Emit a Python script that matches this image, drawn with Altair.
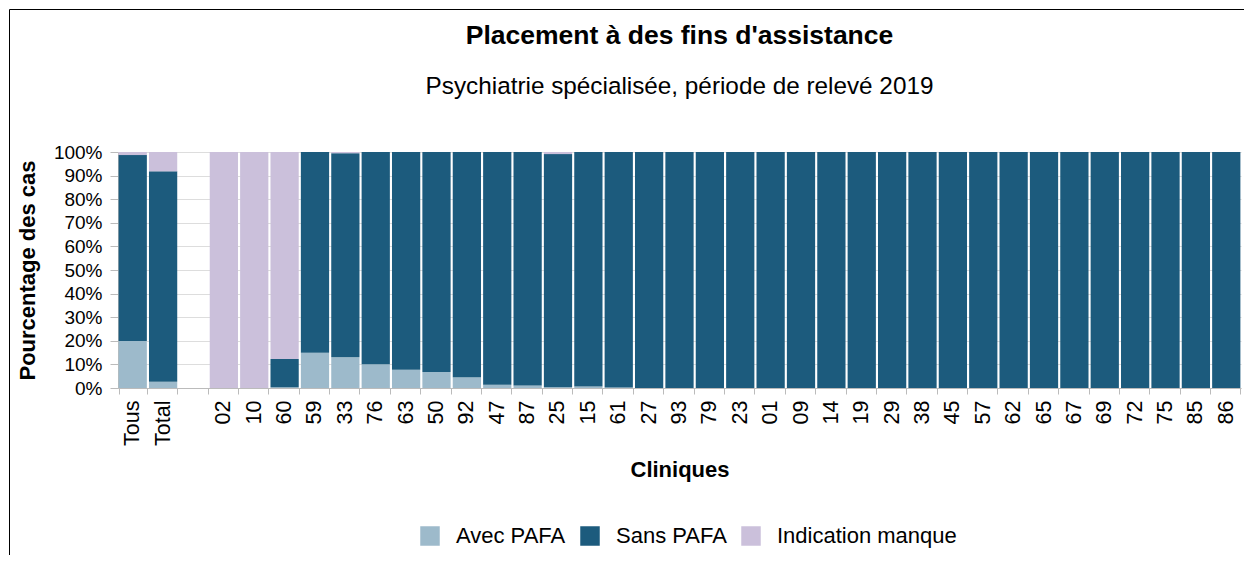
import altair as alt
import pandas as pd

cliniques = ["Tous", "Total", "", "02", "10", "60", "59", "33", "76", "63", "50", "92",
             "47", "87", "25", "15", "61", "27", "93", "79", "23", "01", "09", "14", "19",
             "29", "38", "45", "57", "62", "65", "67", "69", "72", "75", "85", "86"]
avec = [19.9, 2.6, 0, 0, 0, 0.3, 14.9, 13.0, 10.1, 7.7, 6.8, 4.6,
        1.4, 1.1, 0.3, 0.6, 0.2, 0, 0, 0, 0, 0, 0, 0, 0,
        0, 0, 0, 0, 0, 0, 0, 0, 0, 0, 0, 0]
sans = [78.8, 89.2, 0, 0, 0, 12.0, 85.1, 86.5, 89.9, 92.3, 93.2, 95.4,
        98.6, 98.9, 98.8, 99.4, 99.8, 100, 100, 100, 100, 100, 100, 100, 100,
        100, 100, 100, 100, 100, 100, 100, 100, 100, 100, 100, 100]
manque = [1.3, 8.2, 0, 100, 100, 87.7, 0, 0.5, 0, 0, 0, 0,
          0, 0, 0.9, 0, 0, 0, 0, 0, 0, 0, 0, 0, 0,
          0, 0, 0, 0, 0, 0, 0, 0, 0, 0, 0, 0]

series = ["Avec PAFA", "Sans PAFA", "Indication manque"]
colors = ["#9DBACB", "#1C5B7D", "#CBC0DB"]

rows = []
for i, c in enumerate(cliniques):
    for k, (name, vals) in enumerate(zip(series, [avec, sans, manque])):
        rows.append({"Clinique": c, "Serie": name, "Valeur": vals[i], "Ordre": k})
df = pd.DataFrame(rows)

FONT = "Liberation Sans"

bars = alt.Chart(df).mark_bar().encode(
    x=alt.X("Clinique:N", sort=cliniques, title="Cliniques",
            scale=alt.Scale(paddingInner=0.07, paddingOuter=0.02),
            axis=alt.Axis(labelAngle=-90, tickBand="extent", labelAlign="right",
                          labelBaseline="middle", labelPadding=6, titlePadding=14,
                          labelFontSize=21.5, tickSize=6)),
    y=alt.Y("Valeur:Q", stack="zero", title="Pourcentage des cas",
            scale=alt.Scale(domain=[0, 100], nice=False),
            axis=alt.Axis(values=[0, 10, 20, 30, 40, 50, 60, 70, 80, 90, 100],
                          labelExpr="datum.value + '%'", titlePadding=14,
                          labelFontSize=19, tickSize=8, labelPadding=8)),
    color=alt.Color("Serie:N", sort=series,
                    scale=alt.Scale(domain=series, range=colors),
                    legend=alt.Legend(title=None, orient="none", direction="horizontal",
                                      legendX=301, legendY=373,
                                      symbolType="square", symbolSize=380,
                                      symbolStrokeWidth=0, labelFontSize=22,
                                      labelFont=FONT, labelColor="#000000",
                                      labelLimit=400,
                                      columnPadding=13, labelOffset=15)),
    order=alt.Order("Ordre:Q", sort="ascending"),
)

frame_df = pd.DataFrame({"a": [0]})
frame_top = alt.Chart(frame_df).mark_rule(color="#000000", strokeWidth=1).encode(
    x=alt.value(-108.5), x2=alt.value(1126), y=alt.value(-142.5))
frame_left = alt.Chart(frame_df).mark_rule(color="#000000", strokeWidth=1).encode(
    x=alt.value(-108.5), y=alt.value(-142.5), y2=alt.value(405))

chart = alt.layer(bars, frame_top, frame_left).properties(
    width=1123, height=236,
    autosize=alt.AutoSizeParams(type="none"),
    padding={"left": 110, "top": 144, "right": 3, "bottom": 167},
    title=alt.TitleParams(text="Placement à des fins d'assistance",
                          subtitle="Psychiatrie spécialisée, période de relevé 2019",
                          font=FONT, fontSize=26.5, fontWeight="bold", color="#000000",
                          subtitleFont=FONT, subtitleFontSize=24.3, subtitleColor="#000000",
                          subtitlePadding=25, offset=-90, anchor="middle"),
).configure_view(stroke=None).configure_axis(
    labelFont=FONT, labelColor="#000000",
    titleFont=FONT, titleFontSize=22, titleFontWeight="bold", titleColor="#000000",
    domainColor="#BBBBBB", tickColor="#BBBBBB", gridColor="#DDDDDD",
).configure_axisX(grid=False).configure_axisY(grid=True)

chart.save("out.html", embed_options={"renderer": "svg", "actions": False})
